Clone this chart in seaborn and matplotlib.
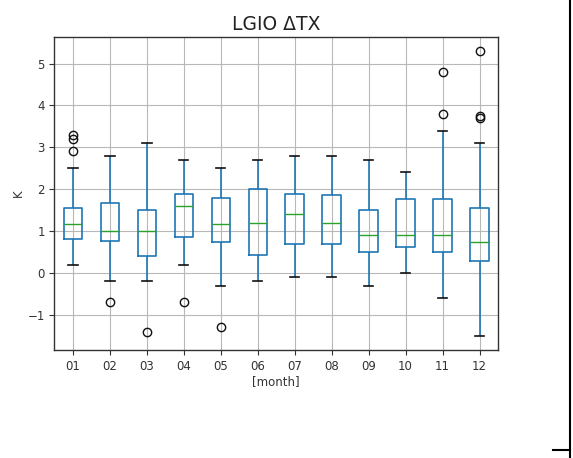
import numpy as np
import pandas as pd
import matplotlib
matplotlib.use("Agg")
import matplotlib.pyplot as plt
from matplotlib.lines import Line2D
import seaborn as sns

# Monthly summary of LGIO ΔTX (K)
months = ["01", "02", "03", "04", "05", "06", "07", "08", "09", "10", "11", "12"]
q1 = [0.80, 0.76, 0.40, 0.87, 0.74, 0.43, 0.68, 0.70, 0.50, 0.61, 0.49, 0.29]
median = [1.18, 1.00, 1.00, 1.60, 1.18, 1.20, 1.40, 1.20, 0.90, 0.90, 0.90, 0.75]
q3 = [1.55, 1.67, 1.50, 1.88, 1.78, 2.00, 1.88, 1.86, 1.50, 1.76, 1.76, 1.55]
whisker_low = [0.2, -0.2, -0.2, 0.2, -0.3, -0.2, -0.1, -0.1, -0.3, 0.0, -0.6, -1.5]
whisker_high = [2.5, 2.8, 3.1, 2.7, 2.5, 2.7, 2.8, 2.8, 2.7, 2.4, 3.4, 3.1]
outlier_month = ["01", "01", "01", "02", "03", "04", "05", "11", "11", "12", "12", "12"]
outlier_value = [2.9, 3.2, 3.3, -0.7, -1.4, -0.7, -1.3, 3.8, 4.8, 3.7, 3.75, 5.3]

# Build per-month samples (17 values each) whose quartiles, whisker ends and
# outliers reproduce the summary statistics above.
K = 4
rows = []
for i, m in enumerate(months):
    lo_out = sorted(v for mm, v in zip(outlier_month, outlier_value) if mm == m and v < q1[i])
    hi_out = sorted(v for mm, v in zip(outlier_month, outlier_value) if mm == m and v > q3[i])
    low = lo_out + [whisker_low[i]]
    low = low + [q1[i]] * (K - len(low))
    high = [whisker_high[i]] + hi_out
    high = [q3[i]] * (K - len(high)) + high
    sample = (low + [q1[i]] + [median[i]] * (K - 1) + [median[i]]
              + [median[i]] * (K - 1) + [q3[i]] + high)
    rows += [(m, v) for v in sample]
df = pd.DataFrame(rows, columns=["month", "value"])

plt.rcParams["font.family"] = ["DejaVu Sans"]
plt.rcParams["axes.edgecolor"] = "#333333"

fig = plt.figure(figsize=(5.73, 4.58), dpi=100)
ax = fig.add_axes([0.0951, 0.2358, 0.774, 0.684])

blue = "#1f77b4"
sns.boxplot(
    data=df, x="month", y="value", order=months, ax=ax,
    width=0.5, fill=False, color=blue, linewidth=1.2, whis=1.5,
    boxprops=dict(color=blue, linewidth=1.2),
    whiskerprops=dict(color=blue, linewidth=1.2),
    capprops=dict(color="#111111", linewidth=1.2),
    medianprops=dict(color="#2ca02c", linewidth=1.0),
    flierprops=dict(marker="o", markerfacecolor="none",
                    markeredgecolor="#111111", markersize=6, markeredgewidth=1.0),
)

ax.set_axisbelow(True)
ax.grid(True, axis="both", color="#b8b8b8", linewidth=0.8)
ax.set_xlim(-0.5, len(months) - 0.5)
ax.set_yticks([-1, 0, 1, 2, 3, 4, 5])
ax.set_yticklabels(["\u22121", "0", "1", "2", "3", "4", "5"])
ax.tick_params(labelsize=8.5, colors="#333333", length=3.5, width=0.8)
ax.set_xlabel("[month]", fontsize=8.5, color="#333333", labelpad=2)
ax.set_ylabel("K", fontsize=8.5, color="#333333", labelpad=1.5)
ax.set_title("LGIO \u0394TX", fontsize=13.5, color="#222222", pad=5)
for s in ax.spines.values():
    s.set_visible(True)
    s.set_linewidth(1.0)

# frame marks at the right edge
W, H = 573.0, 458.0
fig.add_artist(Line2D([569.5 / W, 569.5 / W], [0, 1], transform=fig.transFigure,
                      color="black", linewidth=1.5))
fig.add_artist(Line2D([553 / W, 569.5 / W], [1 - 450 / H, 1 - 450 / H],
                      transform=fig.transFigure, color="black", linewidth=1.5))

fig.savefig("out.png", dpi=100)
